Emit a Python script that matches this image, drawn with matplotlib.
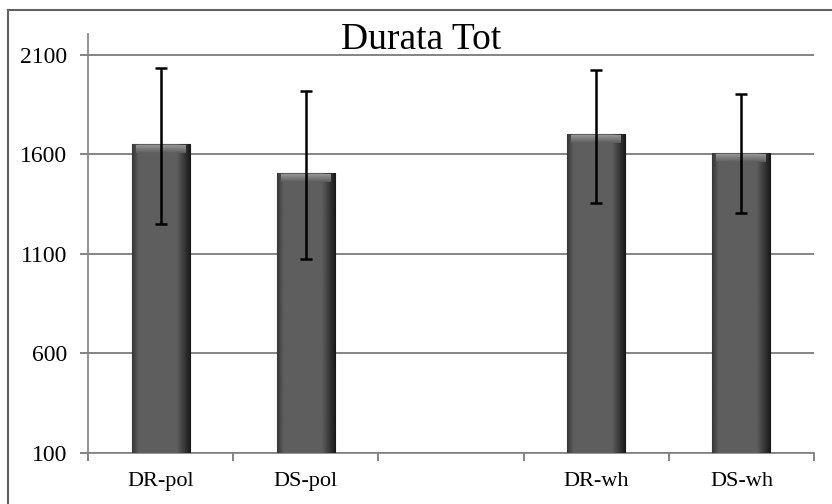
import matplotlib.pyplot as plt
import numpy as np
from matplotlib.lines import Line2D

# Durata Tot -- means with error bars, one empty slot between groups
categories = ['DR-pol', 'DS-pol', '', 'DR-wh', 'DS-wh']
means    = [1652, 1506, np.nan, 1704, 1607]
err_low  = [400, 433, np.nan, 348, 301]
err_high = [383, 415, np.nan, 321, 298]
yticks = [100, 600, 1100, 1600, 2100]

plt.rcParams['font.family'] = ['Liberation Serif', 'DejaVu Serif']

fig = plt.figure(figsize=(8.32, 5.04), dpi=100)
ax = fig.add_axes([0.1058, 0.1012, 0.8726, 0.8313])

ax.set_xlim(-0.5, len(categories) - 0.5)
ax.set_ylim(100, 2205)
ybot = ax.get_ylim()[0]

x = np.arange(len(categories))
bars = ax.bar(x, means, width=0.4, color='#5c5c5c', edgecolor='#2a2a2a',
              linewidth=0.8, zorder=3)

# excel-ish bevel: horizontal shading + light band at the top, clipped to bar
prof = np.concatenate([np.linspace(0.22, 0.37, 6), np.full(30, 0.37),
                       np.linspace(0.37, 0.10, 12)])
bevel = np.linspace(0.58, 0.37, 12)[:, None] * np.ones((1, 40))
for b in bars:
    h = b.get_height()
    if not np.isfinite(h):
        continue
    x0, w = b.get_x(), b.get_width()
    im = ax.imshow(np.tile(prof, (4, 1)), cmap='gray', vmin=0, vmax=1,
                   extent=(x0, x0 + w, ybot, h), aspect='auto', zorder=3.1,
                   interpolation='bilinear')
    im.set_clip_path(b)
    im2 = ax.imshow(bevel, cmap='gray', vmin=0, vmax=1,
                    extent=(x0 + w * 0.07, x0 + w * 0.93, h - 45, h - 6),
                    aspect='auto', zorder=3.2, interpolation='bilinear')
    im2.set_clip_path(b)

ax.errorbar(x, means, yerr=[err_low, err_high], fmt='none', ecolor='black',
            elinewidth=1.8, capsize=4.5, capthick=1.8, zorder=4)

ax.set_xlim(-0.5, len(categories) - 0.5)
ax.set_ylim(100, 2205)
ax.set_yticks(yticks)
ax.yaxis.grid(True, color='#707070', linewidth=1.2)
ax.set_axisbelow(True)

ax.set_xticks(x)
ax.set_xticklabels(categories, fontsize=16)
ax.set_xticks(np.arange(len(categories) + 1) - 0.5, minor=True)
ax.tick_params(axis='x', which='major', length=0, pad=14)
ax.tick_params(axis='x', which='minor', length=6, width=1.2, color='#707070')
ax.tick_params(axis='y', length=6, width=1.2, color='#707070', pad=9,
               labelsize=17)

for s in ['top', 'right']:
    ax.spines[s].set_visible(False)
for s in ['left', 'bottom']:
    ax.spines[s].set_color('#808080')
    ax.spines[s].set_linewidth(1.2)

fig.text(421 / 832, 1 - 40 / 504, 'Durata Tot', ha='center', va='center',
         fontsize=27)

# outer chart frame
fx, fy = 8 / 832, 1 - 10 / 504
fig.add_artist(Line2D([fx, fx], [0, fy], transform=fig.transFigure,
                      color='#606060', lw=1.5))
fig.add_artist(Line2D([fx, 1], [fy, fy], transform=fig.transFigure,
                      color='#606060', lw=1.5))

plt.savefig('out.png', dpi=100)
